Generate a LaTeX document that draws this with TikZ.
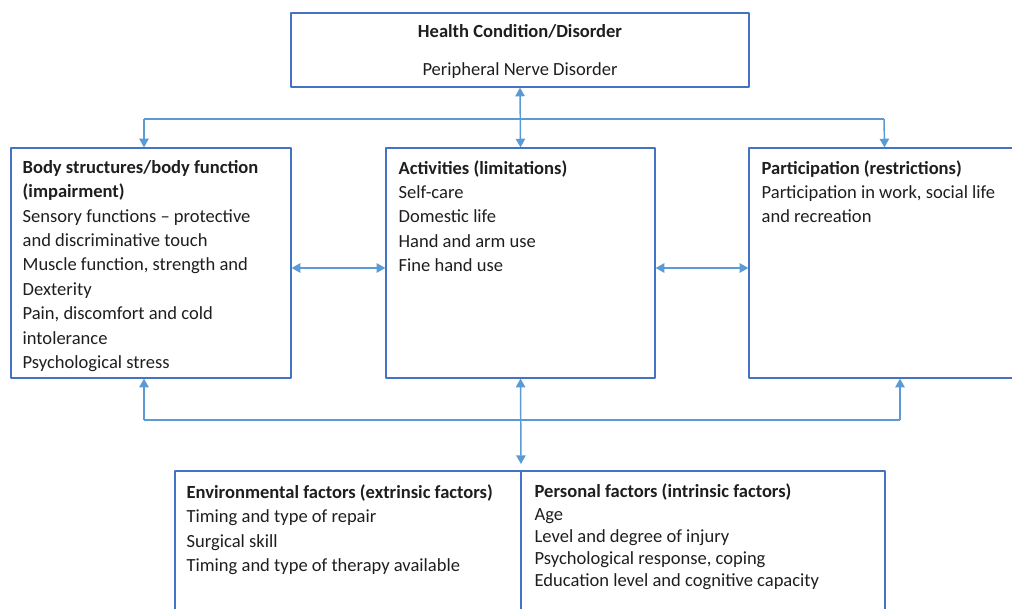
\documentclass[tikz,border=0pt]{standalone}
\usepackage{fontspec}
\setmainfont{Carlito}
\usetikzlibrary{arrows.meta}
\definecolor{boxblue}{RGB}{68,114,196}
\definecolor{linkblue}{RGB}{91,155,213}
\definecolor{ink}{RGB}{30,30,30}
\tikzset{
	box/.style={draw=boxblue, line width=0.9pt, inner sep=0pt},
	txt/.style={anchor=north west, align=left, inner sep=0pt, text=ink, font=\fontsize{13.9}{18.3}\selectfont},
	link/.style={draw=linkblue, line width=1.1pt},
}
\begin{document}
\begin{tikzpicture}[x=0.75pt, y=-0.75pt, line join=round, >={Stealth[inset=0pt,length=6.5pt,width=7pt]}]
	\useasboundingbox (0,0) rectangle (1012,608);
	\clip (0,0) rectangle (1012,608);
	%boxes
	\node[box, minimum width=343.5pt, minimum height=55.5pt] (health) at (520,50) {};
	\node[box, minimum width=210pt, minimum height=172.5pt] (body) at (151,263) {};
	\node[box, minimum width=201.75pt, minimum height=172.5pt] (act) at (520.5,263) {};
	\node[box, minimum width=203.25pt, minimum height=172.5pt] (part) at (884.5,263) {};
	\node[box, minimum width=259.5pt, minimum height=111.75pt] (env) at (348,545.5) {};
	\node[box, minimum width=273pt, minimum height=111.75pt] (pers) at (703,545.5) {};
	%texts
	\node[txt, anchor=north, align=center] (healthtxt) at ([yshift=-9pt]health.north) {\textbf{Health Condition/Disorder}\\[10.2pt] Peripheral Nerve Disorder};
	\node[txt] (bodytxt) at ([xshift=9pt,yshift=-9.5pt]body.north west) {\textbf{Body structures/body function}\\ \textbf{(impairment)}\\ Sensory functions -- protective\\ and discriminative touch\\ Muscle function, strength and\\ Dexterity\\ Pain, discomfort and cold\\ intolerance\\ Psychological stress};
	\node[txt] (acttxt) at ([xshift=9.75pt,yshift=-9.5pt]act.north west) {\textbf{Activities (limitations)}\\ Self-care\\ Domestic life\\ Hand and arm use\\ Fine hand use};
	\node[txt] (parttxt) at ([xshift=9.75pt,yshift=-9.5pt]part.north west) {\textbf{Participation (restrictions)}\\ Participation in work, social life\\ and recreation};
	\node[txt] (envtxt) at ([xshift=9pt,yshift=-10.5pt]env.north west) {\textbf{Environmental factors (extrinsic factors)}\\ Timing and type of repair\\ Surgical skill\\ Timing and type of therapy available};
	\node[txt, font=\fontsize{13.9}{16.7}\selectfont] (perstxt) at ([xshift=10.5pt,yshift=-10pt]pers.north west) {\textbf{Personal factors (intrinsic factors)}\\ Age\\ Level and degree of injury\\ Psychological response, coping\\ Education level and cognitive capacity};
	%connectors
	\coordinate (topl) at (144,119);
	\coordinate (topr) at (884,119);
	\coordinate (botl) at (144,420);
	\coordinate (botr) at (900,420);
	\coordinate (fac) at (521,464);
	\draw[link,<->] (health.south) -- (act.north);
	\draw[link,->] (topl) -- (topl |- body.north);
	\draw[link] (topl) -- (topr);
	\draw[link,->] (topr) -- (part.north);
	\draw[link,<->] ([yshift=-3.75pt]body.east) -- ([yshift=-3.75pt]act.west);
	\draw[link,<->] ([yshift=-3.75pt]act.east) -- ([yshift=-3.75pt]part.west);
	\draw[link,->] (botl) -- (botl |- body.south);
	\draw[link] (botl) -- (botr);
	\draw[link,->] (botr) -- (botr |- part.south);
	\draw[link,<->] (act.south) -- (fac);
\end{tikzpicture}
\end{document}
